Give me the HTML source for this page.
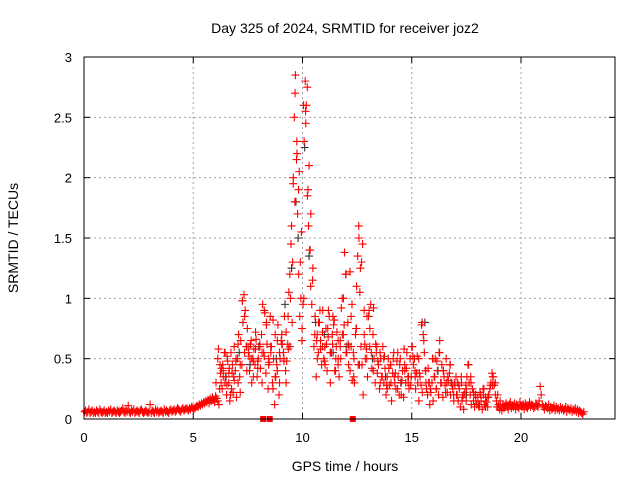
<!DOCTYPE html>
<html><head><meta charset="utf-8"><style>
body{margin:0;background:#fff;}
svg{display:block;font-family:"Liberation Sans",sans-serif;}
</style></head><body>
<svg id="chart" width="640" height="480">
<text x="345" y="33" text-anchor="middle" font-size="14">Day 325 of 2024, SRMTID for receiver joz2</text>
<text x="345" y="471" text-anchor="middle" font-size="14">GPS time / hours</text>
<text transform="translate(18,238) rotate(-90)" text-anchor="middle" font-size="14">SRMTID / TECUs</text>
<g id="grid"></g><g id="axes"></g><g id="marks"></g>
<rect x="84" y="57" width="531" height="362" fill="none" stroke="#000" stroke-width="1"/>
</svg>
<script>
const xTicks=[0,5,10,15,20];
const yTicks=[0,0.5,1,1.5,2,2.5,3];
const yTickLabels=["0","0.5","1","1.5","2","2.5","3"];
const redSegStart=[0,5,6.2,7,7.5,8.5,9.3,10,10.5,12,13,15,17,19];
const redSegEnd=[5,6.2,7,7.5,8.5,9.3,10,10.5,12,13,15,17,19,22.9];
const redSegValues=[
[.06,.07,.05,.06,.08,.05,.06,.07,.05,.06,.05,.07,.06,.05,.08,.06,.05,.06,.07,.05,.06,.05,.07,.06,.08,.05,.06,.07,.06,.05,.07,.06,.05,.06,.07,.09,.06,.05,.07,.06,.11,.06,.05,.07,.06,.08,.05,.06,.07,.06,.05,.07,.08,.06,.05,.06,.07,.06,.05,.06,.12,.05,.07,.06,.05,.08,.06,.07,.05,.06,.07,.06,.05,.08,.06,.07,.06,.05,.07,.08,.06,.07,.08,.06,.07,.09,.08,.07,.06,.08,.09,.07,.08,.09,.08,.07,.09,.08,.10,.09],
[.08,.09,.10,.11,.10,.12,.11,.13,.12,.14,.13,.15,.14,.16,.13,.17,.15,.18,.16,.14,.19,.17,.15,.12],
[.45,.3,.25,.4,.55,.35,.2,.48,.3,.15,.55,.38,.22,.6,.4,.18],
[.5,.7,.35,.65,.45,.8,1.03,.9,.6,.75],
[.55,.4,.62,.3,.5,.58,.45,.66,.35,.5,.6,.42,.7,.95,.55,.88,.38,.62,.25,.47],
[.85,.6,.3,.5,.12,.35,.45,.78,.2,.5,.65,.62,.55,.85,.4,.48],
[.62,1.05,.6,1.45,.8,1.95,2.5,2.85,2.15,1.7,1.2,.85,1.0,.65],
[.95,2.3,2.8,2.6,1.85,1.6,1.4,1.1,.95,1.25],
[.6,.85,.35,.7,.55,.8,.65,.45,.9,.5,.6,.75,.4,.68,.85,.3,.55,.62,.78,.4,.5,.72,.45,.35,.6,.92,.7,1.0,1.38,1.2],
[.55,.8,.6,.4,.85,.32,.55,.3,.7,1.1,1.35,1.6,1.05,.6,.45,.2,.7,.5,.58,.35],
[.85,.6,.95,.42,.7,.5,.3,.55,.38,.45,.25,.5,.35,.6,.3,.42,.2,.35,.5,.28,.45,.15,.38,.55,.3,.25,.48,.35,.2,.5,.3,.4,.18,.45,.3,.55,.35,.25,.5,.35],
[.6,.45,.5,.25,.38,.3,.15,.35,.28,.8,.7,.55,.4,.25,.2,.3,.12,.22,.3,.15,.35,.5,.25,.4,.2,.55,.3,.45,.18,.35,.28,.5,.22,.32,.38,.2,.3,.25,.15,.28],
[.35,.2,.15,.25,.1,.3,.18,.08,.22,.28,.35,.45,.3,.2,.12,.25,.15,.1,.2,.12,.18,.1,.22,.15,.08,.2,.12,.18,.14,.1,.2,.25,.3,.38,.35,.28,.2,.15,.1,.12],
[.08,.1,.07,.12,.09,.11,.13,.1,.08,.12,.14,.09,.11,.1,.13,.08,.12,.1,.09,.14,.11,.1,.12,.08,.13,.1,.09,.11,.14,.1,.12,.11,.09,.1,.13,.11,.1,.15,.27,.2,.12,.1,.08,.11,.1,.09,.12,.07,.1,.08,.09,.11,.07,.1,.08,.09,.07,.1,.08,.09,.07,.08,.1,.06,.09,.08,.07,.09,.06,.08,.07,.09,.06,.08,.05,.07,.06,.05,.04,.06]
];
const red2SegStart=[6,7,8.5,9.3,10.5,13,17];
const red2SegEnd=[7,8.5,9.3,10.5,13,17,19];
const red2SegValues=[
[.3,.5,.25,.42,.35,.55,.28,.38,.2,.45,.32,.5],
[.62,.45,.98,.55,.4,.6,.5,.35,.72,.48,.6,.3,.52,.8,.45],
[.55,.25,.7,.4,.3,.62,.5,.72],
[.85,1.2,1.6,2.0,2.7,2.3,1.9,1.3,.75,1.0,2.55,2.75,2.1,1.7,1.15],
[.7,.5,.9,.6,.45,.75,.55,.85,.4,.65,.5,.7,1.2,.45,.6,.35,.75,1.5,1.3,.9,.5],
[.75,.4,.6,.3,.5,.25,.45,.35,.55,.2,.4,.3,.6,.35,.5,.22,.4,.3,.5,.25,.65,.4,.3,.45,.2],
[.3,.15,.25,.35,.2,.12,.25,.18,.28,.1]
];
const red3SegStart=[6.1,7.2,8.6,9.4,10.6,12.4,13.2,15.2,17.1];
const red3SegEnd=[7.2,8.6,9.4,10.4,12.4,13.2,15.2,17.1,19.1];
const red3SegValues=[
[.58,.38,.45,.3,.52,.42,.25,.35,.48,.3,.22],
[.98,.85,.6,.52,.65,.48,.58,.42,.62,.55,.9,.78,.5,.6],
[.82,.35,.65,.55,.7,.48,.3,.58],
[1.0,1.3,1.8,2.2,2.05,1.55,2.6,2.45,1.9,1.4],
[.65,.8,.58,.72,.48,.62,.9,.55,.7,.82,.6,.5,.65,1.0,.78,.55,.62,1.22,.95,.5],
[.75,.45,1.25,1.45,.62,.85,.9,.55],
[.92,.62,.48,.55,.35,.52,.28,.42,.3,.5,.38,.25,.45,.32,.58,.42,.35,.28,.52,.4],
[.52,.38,.78,.65,.3,.42,.25,.5,.35,.48,.55,.3,.4,.22,.35,.45,.28,.3,.2],
[.28,.35,.2,.15,.45,.3,.22,.15,.12,.2,.25,.1,.18,.28,.35,.3,.2,.15]
];
const zeroHours=[8.2,8.5,12.3];
const zeroValues=[0,0,0];
const blackHours=[6.5,7.1,7.6,8.0,8.8,9.2,9.5,9.7,9.8,10.1,10.3,10.6,11.0,11.4,12.0,12.6,13.2,13.8,14.5,15.6,16.2,16.8,17.5];
const blackValues=[.35,.55,.45,.6,.5,.95,1.25,1.8,1.5,2.25,1.35,.8,.7,.55,.6,.45,.5,.35,.3,.8,.4,.3,.2];

const NS="http://www.w3.org/2000/svg";
const X0=84,X1=615,Y0=419,Y1=57;
function xs(h){return X0+h*(521-84)/20;}
function ys(v){return Y0-v*(Y0-Y1)/3;}
const grid=document.getElementById('grid'),axes=document.getElementById('axes'),marks=document.getElementById('marks');
function mk(tag,attrs,parent){const e=document.createElementNS(NS,tag);for(const k in attrs)e.setAttribute(k,attrs[k]);parent.appendChild(e);return e;}
xTicks.forEach(t=>{
 const x=xs(t);
 if(t>0){const g=mk('line',{x1:x,x2:x,y1:Y0,y2:Y1,stroke:'#a0a0a0','stroke-dasharray':'2,3'},grid);
 
 }
 mk('line',{x1:x,x2:x,y1:Y0,y2:Y0-6,stroke:'#000'},axes);
 mk('line',{x1:x,x2:x,y1:Y1,y2:Y1+6,stroke:'#000'},axes);
 const l=mk('text',{x:x,y:Y0+23,'text-anchor':'middle','font-size':'13'},axes);l.textContent=t;
 
 
});
yTicks.forEach((t,i)=>{
 const y=ys(t);
 if(t>0&&t<3){const g=mk('line',{x1:X0,x2:X1,y1:y,y2:y,stroke:'#a0a0a0','stroke-dasharray':'2,3'},grid);
 
 }
 mk('line',{x1:X0,x2:X0+6,y1:y,y2:y,stroke:'#000'},axes);
 mk('line',{x1:X1,x2:X1-6,y1:y,y2:y,stroke:'#000'},axes);
 const l=mk('text',{x:72,y:y+5,'text-anchor':'end','font-size':'13'},axes);l.textContent=yTickLabels[i];
 
 
});
function plus(h,v,col,name){
 const x=xs(h),y=ys(v);
 const p=mk('path',{d:`M${x-4},${y}h8M${x},${y-4}v8`,stroke:col,'stroke-width':1.1,fill:'none'},marks);
 
 
}
blackHours.forEach((h,i)=>plus(h,blackValues[i],'#333','black-point'));
function drawSegs(starts,ends,vals,name){
 starts.forEach((s,k)=>{const arr=vals[k],n=arr.length;
  arr.forEach((v,i)=>plus(s+(ends[k]-s)*(i+0.5)/n,v,'#ff0000',name));});
}
drawSegs(redSegStart,redSegEnd,redSegValues,'red-point');
drawSegs(red2SegStart,red2SegEnd,red2SegValues,'red-point');
drawSegs(red3SegStart,red3SegEnd,red3SegValues,'red-point');
zeroHours.forEach((h,i)=>{
 const r=mk('rect',{x:xs(h)-3,y:ys(zeroValues[i])-3,width:6,height:6,fill:'#ff0000'},marks);
 
 
});
</script>
</body></html>
